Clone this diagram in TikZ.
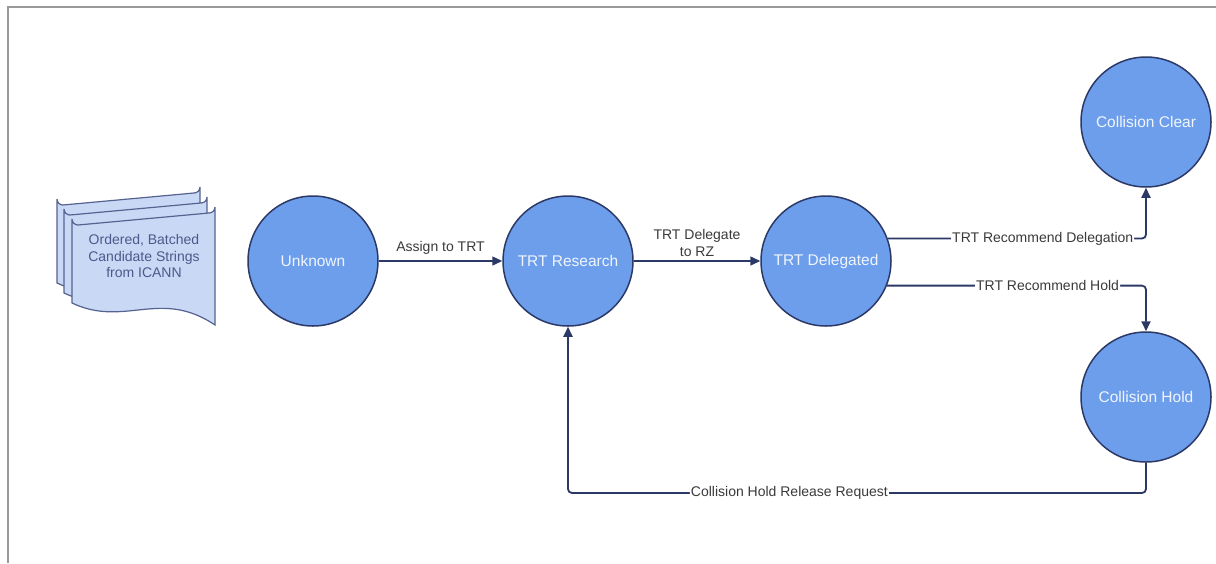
\documentclass[tikz,border=0pt]{standalone}
\usepackage{fontspec}
\setmainfont{Liberation Sans}
\usetikzlibrary{arrows.meta}
\definecolor{cfill}{HTML}{6D9EEB}
\definecolor{cline}{HTML}{2C3966}
\definecolor{dfill}{HTML}{C9D8F5}
\definecolor{dline}{HTML}{56628F}
\definecolor{dtext}{HTML}{4B5A8A}
\definecolor{ltext}{HTML}{3A3A3A}
\definecolor{frame}{HTML}{999999}
\tikzset{
  state/.style={circle, draw=cline, line width=1.5pt, fill=cfill, minimum size=130pt, inner sep=0pt,
    text=white!90!cfill, font=\fontsize{15.5}{18}\selectfont},
  conn/.style={draw=cline, line width=1.8pt, rounded corners=4pt, -{Triangle[length=10pt,width=9pt]}},
  lbl/.style={text=ltext, font=\fontsize{14}{16.5}\selectfont, align=center, inner sep=1pt},
  onlbl/.style={lbl, fill=white},
  docshape/.style={draw=dline, fill=dfill, line width=1.2pt}
}
\newcommand{\docpage}[2]{%
  \draw[docshape] (72+#1,303+#2) -- (72+#1,219+#2) arc[start angle=180,end angle=90,radius=6]
    -- (209+#1,213+#2) arc[start angle=90,end angle=0,radius=6] -- (215+#1,325+#2)
    .. controls (160+#1,288+#2) and (125+#1,328+#2) .. (72+#1,303+#2) -- cycle;}
\begin{document}
\begin{tikzpicture}[x=1pt,y=-1pt]
\useasboundingbox (0,0) rectangle (1216,563);
\fill[white] (0,0) rectangle (1216,563);
\draw[frame, line width=2pt] (1216,7) -- (8,7) -- (8,563);
% document stack
\docpage{-15}{-20}
\docpage{-8}{-10}
\docpage{0}{0}
\node[text=dtext, font=\fontsize{14}{16.5}\selectfont, align=center] (doc) at (144,256)
  {Ordered, Batched\\Candidate Strings\\from ICANN};
% states
\node[state] (unk) at (313,261) {Unknown};
\node[state] (trt) at (568,261) {TRT Research};
\node[state] (del) at (826,261) {TRT Delegated};
\node[state] (clear) at (1146,122) {Collision Clear};
\node[state] (hold) at (1146,397) {Collision Hold};
\coordinate (low) at (0,493);
% connectors
\draw[conn, line width=1.5pt] (unk.east) -- (trt.west)
  node[lbl, midway, above=5pt] {Assign to TRT};
\draw[conn, line width=1.5pt] (trt.east) -- (del.west)
  node[lbl, midway, above=3pt] {TRT Delegate\\to RZ};
\draw[conn] (del.20) -| (clear.south)
  node[onlbl, pos=0.3] {TRT Recommend Delegation};
\draw[conn] (del.-22) -| (hold.north)
  node[onlbl, pos=0.31] {TRT Recommend Hold};
\draw[conn] (hold.south) -- (hold.south |- low) -- (trt.south |- low)
  node[onlbl, pos=0.617] {Collision Hold Release Request} -- (trt.south);
\end{tikzpicture}
\end{document}
